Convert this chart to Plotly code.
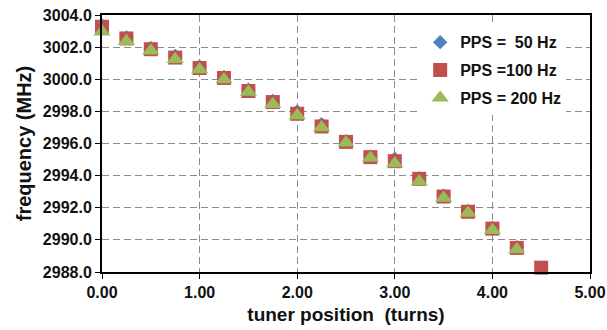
import plotly.graph_objects as go

x_turns = [0.00, 0.25, 0.50, 0.75, 1.00, 1.25, 1.50, 1.75, 2.00, 2.25, 2.50, 2.75,
           3.00, 3.25, 3.50, 3.75, 4.00, 4.25]
x_turns_100 = x_turns + [4.50]

f_50 = [3003.35, 3002.6, 3001.95, 3001.45, 3000.8, 3000.15, 2999.35, 2998.65, 2998.0,
        2997.2, 2996.15, 2995.2, 2995.05, 2993.85, 2992.75, 2991.8, 2990.75, 2989.55]
f_100 = [3003.27, 3002.54, 3001.87, 3001.35, 3000.7, 3000.08, 2999.27, 2998.58, 2997.85,
         2997.06, 2996.1, 2995.15, 2994.9, 2993.8, 2992.7, 2991.75, 2990.7, 2989.5, 2988.27]
f_200 = [3002.96, 3002.37, 3001.77, 3001.25, 3000.6, 2999.98, 2999.2, 2998.44, 2997.75,
         2997.0, 2996.05, 2995.1, 2994.75, 2993.64, 2992.6, 2991.67, 2990.6, 2989.4]

names = ["PPS =\u00a0\u00a050 Hz", "PPS =100 Hz", "PPS = 200 Hz"]

FONT = "Liberation Sans, Arial, sans-serif"

fig = go.Figure()
fig.add_trace(go.Scatter(x=x_turns, y=f_50, mode="markers", name=names[0], legendgroup="a",
                         marker=dict(symbol="diamond", size=11, color="#4F81BD"),
                         cliponaxis=False))
fig.add_trace(go.Scatter(x=x_turns_100, y=f_100, mode="markers", name=names[1], legendgroup="b",
                         marker=dict(symbol="square", size=14, color="#C0504D"),
                         cliponaxis=False))
fig.add_trace(go.Scatter(x=x_turns, y=f_200, mode="markers", name=names[2], legendgroup="c",
                         marker=dict(symbol="triangle-up", size=15, color="#9BBB59"),
                         cliponaxis=False))

fig.update_layout(
    width=607, height=330,
    margin=dict(l=102, r=17, t=15, b=58),
    paper_bgcolor="white", plot_bgcolor="white",
    font=dict(family=FONT, color="#111111", size=16, weight="bold"),
    showlegend=True,
    legend=dict(x=0.652, y=0.96, xanchor="left", yanchor="top",
                bgcolor="white", borderwidth=0, traceorder="grouped",
                font=dict(family=FONT, size=16, color="#111111", weight="bold"),
                itemwidth=30, tracegroupgap=4),
)
fig.update_xaxes(
    range=[0, 5], tickvals=[0, 1, 2, 3, 4, 5], tickformat=".2f",
    automargin=False,
    showgrid=True, gridcolor="#8c8c8c", griddash="7px,4px", gridwidth=1,
    showline=True, linecolor="black", linewidth=2, mirror=True,
    ticks="outside", ticklen=5, tickcolor="black", tickwidth=1,
    zeroline=False,
    tickfont=dict(family=FONT, size=16, weight="bold"),
    title=dict(text="tuner position  (turns)", font=dict(family=FONT, size=19, weight="bold"), standoff=7),
)
fig.update_yaxes(
    range=[2988, 3004], dtick=2, tickformat=".1f",
    automargin=False,
    showgrid=True, gridcolor="#8c8c8c", griddash="7px,4px", gridwidth=1,
    showline=True, linecolor="black", linewidth=2, mirror=True,
    ticks="outside", ticklen=5, tickcolor="black", tickwidth=1,
    zeroline=False,
    tickfont=dict(family=FONT, size=16, weight="bold"),
    title=dict(text="frequency (MHz)", font=dict(family=FONT, size=20, weight="bold"), standoff=6),
)

fig.write_html("out.html")
